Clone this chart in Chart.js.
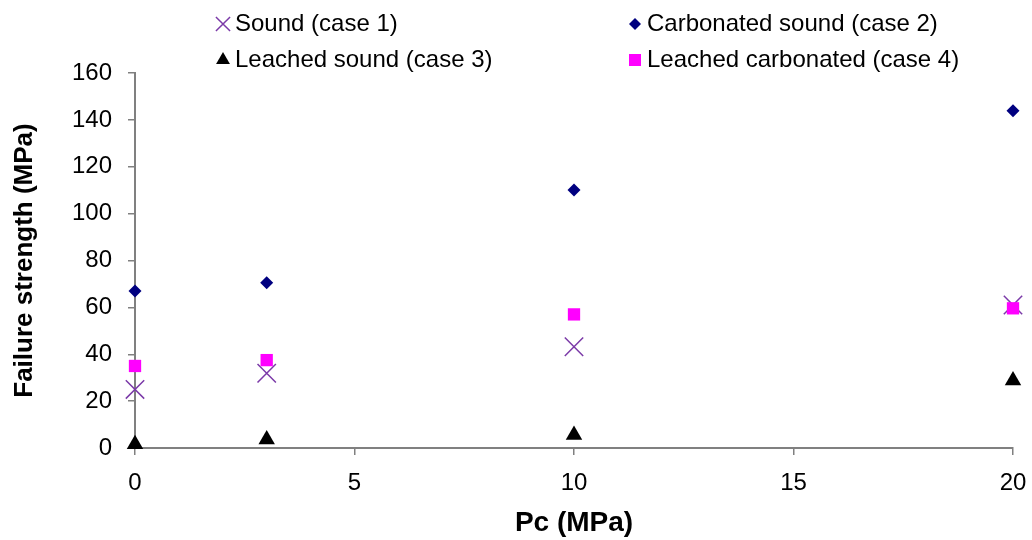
<!DOCTYPE html>
<html lang="en">
<head>
<meta charset="UTF-8">
<title>Failure strength vs Pc</title>
<script src="https://cdn.jsdelivr.net/npm/chart.js"></script>
<style>
    html, body { margin: 0; padding: 0; background: #fff; }
    #wrap { width: 1032px; height: 540px; }
</style>
</head>
<body>
<div id="wrap"><canvas id="grafico"></canvas></div>

<script>
    // dados
    const pc = [0, 3, 10, 20];
    const sound = [25.0, 31.9, 43.2, 61.0];
    const carbonatedSound = [67.0, 70.5, 110.1, 143.9];
    const leachedSound = [1.6, 3.6, 5.6, 28.8];
    const leachedCarbonated = [35.0, 37.5, 57.0, 59.6];

    const nomes = ["Sound (case 1)", "Carbonated sound (case 2)", "Leached sound (case 3)", "Leached carbonated (case 4)"];
    const xTicks = [0, 5, 10, 15, 20];
    const yTicks = [0, 20, 40, 60, 80, 100, 120, 140, 160];

    function pontos(ys) {
        return pc.map((x, i) => ({ x: x, y: ys[i] }));
    }

    // legenda em grade 2x2 como no original
    const legendaGrade = {
        id: 'legendaGrade',
        afterDraw(chart) {
            const ctx = chart.ctx;
            const lugares = [[223, 24], [635, 24], [223, 60], [635, 60]];
            chart.data.datasets.forEach((ds, i) => {
                const [x, y] = lugares[i];
                ctx.save();
                ctx.fillStyle = ds.backgroundColor;
                ctx.strokeStyle = ds.borderColor;
                ctx.lineWidth = ds.borderWidth;
                Chart.helpers.drawPoint(ctx, {
                    pointStyle: ds.pointStyle,
                    radius: ds.legendRadius,
                    borderWidth: ds.borderWidth,
                    rotation: 0
                }, x, y);
                ctx.fillStyle = '#000';
                ctx.font = '24px "Liberation Sans", Arial, sans-serif';
                ctx.textBaseline = 'middle';
                ctx.textAlign = 'left';
                ctx.fillText(nomes[i], x + 12, y);
                ctx.restore();
            });
        }
    };

    const fonteTick = { family: '"Liberation Sans", Arial, sans-serif', size: 24 };
    const fonteTitulo = { family: '"Liberation Sans", Arial, sans-serif', size: 26, weight: 'bold' };

    new Chart(document.getElementById('grafico'), {
        type: 'scatter',
        data: {
            datasets: [{
                label: nomes[0],
                data: pontos(sound),
                pointStyle: 'crossRot',
                pointRadius: 13,
                legendRadius: 10,
                borderColor: '#7B3AA8',
                backgroundColor: '#7B3AA8',
                borderWidth: 1.5,
                clip: false,
                order: 4
            }, {
                label: nomes[1],
                data: pontos(carbonatedSound),
                pointStyle: 'rectRot',
                pointRadius: 6.5,
                legendRadius: 6,
                borderColor: '#000080',
                backgroundColor: '#000080',
                borderWidth: 0,
                clip: false,
                order: 3
            }, {
                label: nomes[2],
                data: pontos(leachedSound),
                pointStyle: 'triangle',
                pointRadius: 9.5,
                legendRadius: 8,
                borderColor: '#000000',
                backgroundColor: '#000000',
                borderWidth: 0,
                clip: false,
                order: 2
            }, {
                label: nomes[3],
                data: pontos(leachedCarbonated),
                pointStyle: 'rect',
                pointRadius: 8.7,
                legendRadius: 8.5,
                borderColor: '#FF00FF',
                backgroundColor: '#FF00FF',
                borderWidth: 0,
                clip: false,
                order: 1
            }]
        },
        options: {
            responsive: true,
            maintainAspectRatio: false,
            animation: false,
            layout: {
                padding: { top: 73, right: 19, bottom: 0, left: 5 }
            },
            plugins: {
                legend: { display: false },
                tooltip: { enabled: false }
            },
            scales: {
                x: {
                    type: 'linear',
                    min: xTicks[0],
                    max: xTicks[xTicks.length - 1],
                    afterBuildTicks: (s) => { s.ticks = xTicks.map(v => ({ value: v })); },
                    afterFit: (s) => { s.height = 92; s.paddingLeft = 0; s.paddingRight = 0; },
                    border: { display: true, color: '#808080', width: 2 },
                    grid: { drawOnChartArea: false, drawTicks: true, tickLength: 7, color: '#808080', lineWidth: 1.5 },
                    ticks: { color: '#000', font: fonteTick, padding: 14, maxRotation: 0 },
                    title: { display: true, text: 'Pc (MPa)', color: '#000', font: { ...fonteTitulo, size: 28 }, padding: { top: 0, bottom: 0 } }
                },
                y: {
                    min: yTicks[0],
                    max: yTicks[yTicks.length - 1],
                    afterBuildTicks: (s) => { s.ticks = yTicks.map(v => ({ value: v })); },
                    afterFit: (s) => { s.width = 130; },
                    border: { display: true, color: '#808080', width: 2 },
                    grid: { drawOnChartArea: false, drawTicks: true, tickLength: 7, color: '#808080', lineWidth: 1.5 },
                    ticks: { color: '#000', font: fonteTick, padding: 16 },
                    title: { display: true, text: 'Failure strength (MPa)', color: '#000', font: fonteTitulo, padding: { top: 4, bottom: 0 } }
                }
            }
        },
        plugins: [legendaGrade]
    });
</script>
</body>
</html>
